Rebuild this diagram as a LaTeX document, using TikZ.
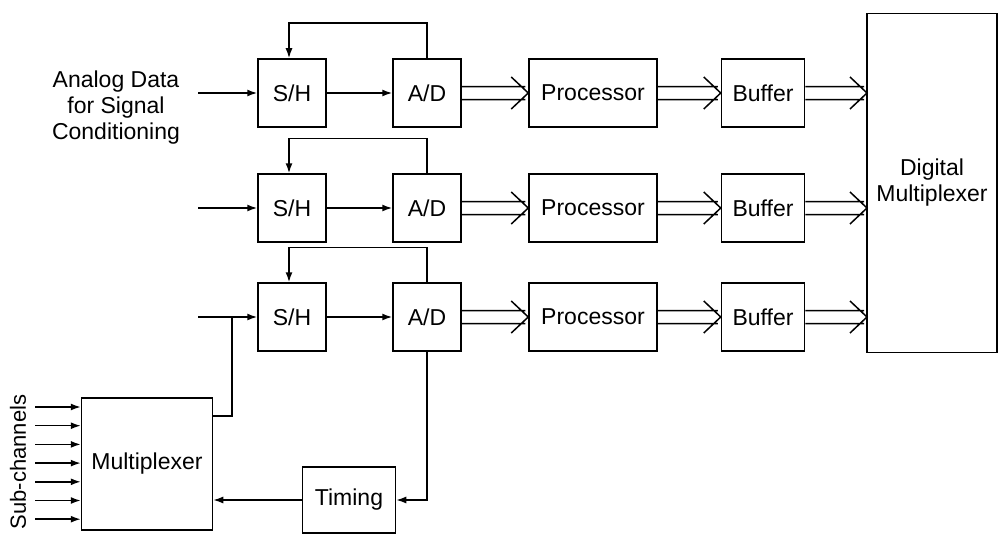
\documentclass[tikz,border=0pt]{standalone}
\usepackage{fontspec}
\setmainfont{Liberation Sans}
\usepackage{tikz}
\usetikzlibrary{arrows.meta,calc}

\tikzset{
	blk/.style      = {draw, line width=1.5pt, inner sep=0pt, minimum height=68pt, font=\fontsize{23}{26}\selectfont},
	sig/.style      = {line width=1.5pt, -{Latex[length=10pt,width=7pt]}},
	bus/.style      = {line width=1.5pt, line join=miter, to path={
			($(\tikztostart)+(0,-6.5)$) -- ($(\tikztotarget)+(-3,-6.5)$)
			($(\tikztostart)+(0,6.5)$)  -- ($(\tikztotarget)+(-3,6.5)$)
			($(\tikztotarget)+(-17,-16)$) -- (\tikztotarget) -- ($(\tikztotarget)+(-17,16)$)}},
	lbl/.style      = {align=center, font=\fontsize{23}{26}\selectfont},
}

\begin{document}
\begin{tikzpicture}[x=1pt, y=-1pt]
	
	\useasboundingbox (0,0) rectangle (998,535);
	
	% final multiplexer
	\node [blk, minimum width=130pt, minimum height=339pt, align=center] (dmux) at (932,183) {Digital\\Multiplexer};
	
	% the three channels
	\foreach \i/\y in {1/93, 2/208, 3/317} {
		\node [blk, minimum width=68pt] (sh\i)  at (292,\y) {S/H};
		\node [blk, minimum width=68pt] (ad\i)  at (427,\y) {A/D};
		\node [blk, minimum width=128pt] (pr\i) at (593,\y) {Processor};
		\node [blk, minimum width=83pt] (bf\i)  at (763,\y) {Buffer};
		\coordinate (in\i) at (198,\y);
		\coordinate (dm\i) at (867,\y);
		
		\draw [sig] (in\i) -- (sh\i.west);
		\draw [sig] (sh\i.east) -- (ad\i.west);
		\draw [sig] (ad\i.north) -- ++(0,-35) -| ($(sh\i.north)+(-3,0)$);
		\draw [bus] (ad\i.east) to (pr\i.west);
		\draw [bus] (pr\i.east) to (bf\i.west);
		\draw [bus] (bf\i.east) to (dm\i);
	}
	
	% text at the first input
	\node [lbl] (adata) at (116,108) {Analog Data\\for Signal\\Conditioning};
	
	% sub-channel multiplexer and timing
	\node [blk, minimum width=131pt, minimum height=132pt] (mux) at (147,464) {Multiplexer};
	\node [blk, minimum width=93pt, minimum height=66pt] (tim) at (349,500) {Timing};
	\node [lbl, rotate=90, font=\fontsize{22}{25}\selectfont] (subch) at (18,462) {Sub-channels};
	
	\foreach \k in {0,...,6} {
		\coordinate (sc\k) at (35,{407+18.7*\k});
		\draw [sig] (sc\k) -- (sc\k -| mux.west);
	}
	
	\coordinate (jn) at (232,317);
	\draw [line width=1.5pt] (mux.east |- 0,416) -| (jn);
	\draw [sig] (ad3.south) |- (tim.east);
	\draw [sig] (tim.west) -- (tim.west -| mux.east);
	
\end{tikzpicture}
\end{document}
